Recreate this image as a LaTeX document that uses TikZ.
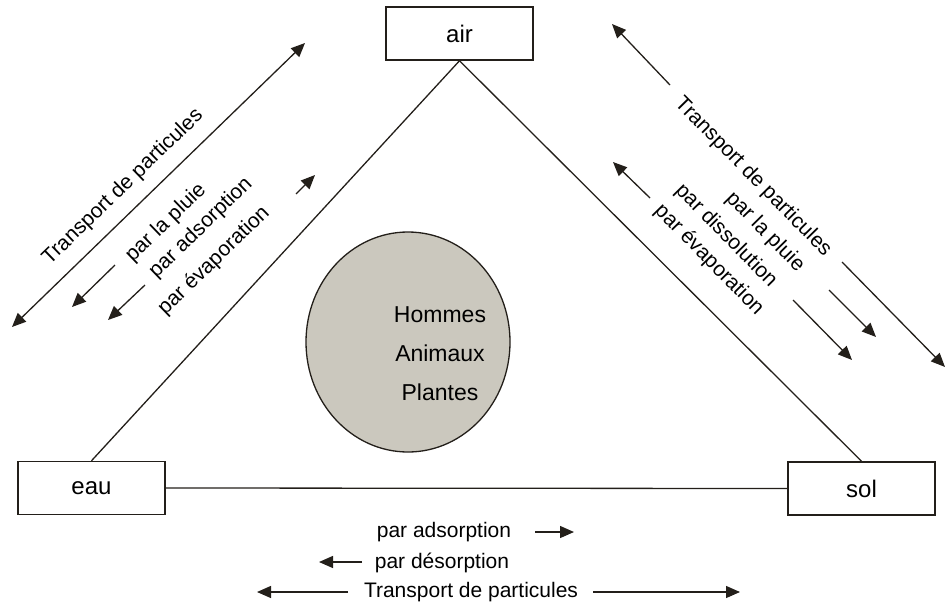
\documentclass[tikz,border=0pt]{standalone}
\usepackage{fontspec}
\setmainfont{Liberation Sans}
\usetikzlibrary{arrows.meta,shapes.geometric}
\definecolor{ink}{HTML}{231F1A}
\definecolor{bodyfill}{HTML}{CBC8BE}
\tikzset{
  compart/.style={draw=ink, line width=1.5pt, minimum width=147pt, minimum height=53pt,
    inner sep=0pt, font=\fontsize{24}{28}\selectfont},
  link/.style={draw=ink, line width=1.3pt},
  tip/.style={Triangle[length=14pt,width=12pt]},
  flow/.style={draw=ink, line width=1.3pt, -{Triangle[length=14pt,width=12pt]}},
  flowboth/.style={draw=ink, line width=1.3pt, {Triangle[length=14pt,width=12pt]}-{Triangle[length=14pt,width=12pt]}},
  lbl/.style={font=\fontsize{21}{25}\selectfont, inner sep=0pt},
}
\begin{document}
\begin{tikzpicture}[x=1pt,y=-1pt]
\useasboundingbox (0,0) rectangle (947,608);

% compartments
\node[compart] (air) at (459.5,33.5) {air};
\node[compart] (eau) at (91.5,488) {eau};
\node[compart] (sol) at (861.5,488.5) {sol};

% triangle of exchanges
\draw[link] (air.south) -- (eau.north);
\draw[link] (air.south) -- (sol.north);
\draw[link] (eau.east) -- (sol.west);

% living organisms
\node[ellipse, draw=ink, line width=1.3pt, fill=bodyfill, minimum width=204pt, minimum height=220pt] (bio) at (408,342) {};
\node[align=center, font=\fontsize{23}{39}\selectfont] (biotxt) at (440,354) {Hommes\\Animaux\\Plantes};

% air <-> eau
\coordinate (le1) at (12,327);
\coordinate (le2) at (305,43);
\draw[flowboth] (le1) -- (le2);
\node[lbl, rotate=44] (lt1) at (123,187) {Transport de particules};
\node[lbl, rotate=44] (lt2) at (166,223) {par la pluie};
\node[lbl, rotate=44] (lt3) at (201,228) {par adsorption};
\node[lbl, rotate=44] (lt4) at (214,261) {par évaporation};
\coordinate (la1s) at (115,265); \coordinate (la1e) at (72,307);
\coordinate (la2s) at (145,285); \coordinate (la2e) at (108,320);
\coordinate (la3s) at (296,194); \coordinate (la3e) at (315,175);
\draw[flow] (la1s) -- (la1e);
\draw[flow] (la2s) -- (la2e);
\draw[flow] (la3s) -- (la3e);

% air <-> sol
\coordinate (rt1) at (612,24);
\coordinate (rt1b) at (670,85);
\coordinate (rt2b) at (842,262);
\coordinate (rt2) at (945,367);
\draw[flow] (rt1b) -- (rt1);
\draw[flow] (rt2b) -- (rt2);
\node[lbl, rotate=-45.5] (rl1) at (753,177) {Transport de particules};
\node[lbl, rotate=-45.5] (rl2) at (765,232) {par la pluie};
\node[lbl, rotate=-45.5] (rl3) at (726,236) {par dissolution};
\node[lbl, rotate=-45.5] (rl4) at (709,260) {par évaporation};
\coordinate (ra1s) at (650,198); \coordinate (ra1e) at (613,162);
\coordinate (ra2s) at (829,290); \coordinate (ra2e) at (876,337);
\coordinate (ra3s) at (793,300); \coordinate (ra3e) at (852,360);
\draw[flow] (ra1s) -- (ra1e);
\draw[flow] (ra2s) -- (ra2e);
\draw[flow] (ra3s) -- (ra3e);

% eau <-> sol
\node[lbl] (bt1) at (444,532) {par adsorption};
\node[lbl] (bt2) at (442,563) {par désorption};
\node[lbl] (bt3) at (471,592) {Transport de particules};
\coordinate (ba1s) at (535,532); \coordinate (ba1e) at (574,532);
\coordinate (ba2s) at (362,562); \coordinate (ba2e) at (319,562);
\coordinate (ba3s) at (348,592); \coordinate (ba3e) at (257,592);
\coordinate (ba4s) at (593,592); \coordinate (ba4e) at (740,592);
\draw[flow] (ba1s) -- (ba1e);
\draw[flow] (ba2s) -- (ba2e);
\draw[flow] (ba3s) -- (ba3e);
\draw[flow] (ba4s) -- (ba4e);
\end{tikzpicture}
\end{document}
